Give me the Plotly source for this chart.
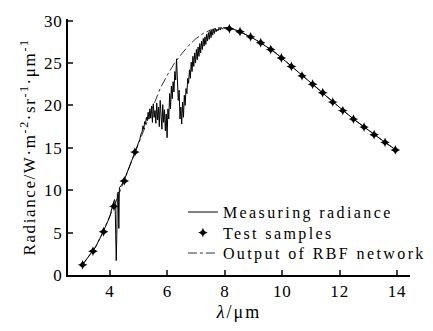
import plotly.graph_objects as go

# RBF network output (smooth curve)
rbf_x = [3.0, 3.25, 3.5, 3.75, 4.0, 4.25, 4.5, 4.75, 5.0, 5.25, 5.5, 5.75, 6.0, 6.25, 6.5,
         6.75, 7.0, 7.25, 7.5, 7.75, 8.0, 8.25, 8.5, 8.75, 9.0, 9.25, 9.5, 9.75, 10.0, 10.25,
         10.5, 10.75, 11.0, 11.25, 11.5, 11.75, 12.0, 12.25, 12.5, 12.75, 13.0, 13.25, 13.5,
         13.75, 14.0]
rbf_y = [1.0, 2.1, 3.3, 5.0, 6.9, 9.0, 11.2, 13.4, 15.6, 17.8, 20.0, 22.0, 23.6, 25.0, 26.1,
         27.1, 27.9, 28.5, 28.9, 29.15, 29.2, 29.05, 28.75, 28.35, 27.9, 27.4, 26.85, 26.25,
         25.55, 24.85, 24.1, 23.35, 22.65, 21.95, 21.2, 20.45, 19.75, 19.05, 18.35, 17.7,
         17.05, 16.45, 15.85, 15.25, 14.65]

# Measured radiance
meas_x = [3.0, 3.25, 3.5, 3.75, 4.0, 4.10, 4.16, 4.18, 4.20, 4.21, 4.22, 4.24, 4.26, 4.29,
          4.31, 4.33, 4.40, 4.5, 4.75, 5.00, 5.04, 5.08, 5.12, 5.15, 5.18, 5.21, 5.24, 5.27,
          5.30, 5.33, 5.36, 5.39, 5.42, 5.45, 5.48, 5.51, 5.54, 5.57, 5.60, 5.63, 5.66, 5.69,
          5.72, 5.75, 5.78, 5.81, 5.84, 5.87, 5.90, 5.93, 5.96, 5.99, 6.02, 6.05, 6.08, 6.11,
          6.14, 6.17, 6.20, 6.23, 6.26, 6.29, 6.32, 6.35, 6.38, 6.41, 6.44, 6.47, 6.50, 6.53,
          6.56, 6.59, 6.62, 6.65, 6.68, 6.71, 6.74, 6.77, 6.80, 6.83, 6.86, 6.89, 6.92, 6.95,
          6.98, 7.01, 7.04, 7.07, 7.10, 7.13, 7.16, 7.19, 7.22, 7.25, 7.28, 7.31, 7.34, 7.37,
          7.40, 7.43, 7.46, 7.49, 7.52, 7.55, 7.58, 7.61, 7.64, 7.67, 7.70, 7.73, 7.76, 7.80,
          7.84, 7.88, 7.92, 7.96, 8.00, 8.05, 8.25, 8.5, 8.75, 9.0, 9.25, 9.5, 9.75, 10.0,
          10.25, 10.5, 10.75, 11.0, 11.25, 11.5, 11.75, 12.0, 12.25, 12.5, 12.75, 13.0, 13.25,
          13.5, 13.75, 14.0]
meas_y = [1.0, 2.1, 3.3, 5.0, 6.9, 8.3, 8.9, 8.6, 5.0, 7.5, 1.7, 4.8, 9.6, 9.8,
          5.5, 10.3, 10.6, 11.2, 13.4, 15.6, 16.0, 16.6, 16.9, 17.6, 17.2, 18.1, 17.8, 18.6,
          18.2, 19.2, 18.4, 19.6, 18.5, 19.9, 18.0, 20.2, 18.6, 19.4, 17.9, 20.3, 18.3, 19.8,
          17.5, 20.6, 18.8, 17.2, 20.1, 18.0, 19.5, 17.0, 19.0, 16.2, 19.6, 18.4, 21.4, 19.6,
          22.3, 20.8, 22.8, 21.6, 24.0, 23.0, 25.5, 22.4, 20.6, 21.8, 18.4, 19.8, 17.8, 20.4,
          18.6, 21.2, 20.0, 22.0, 21.4, 23.2, 22.6, 24.2, 23.2, 25.1, 24.0, 25.8, 24.6, 26.2,
          25.0, 26.6, 25.4, 26.9, 25.8, 27.3, 26.2, 27.6, 26.6, 27.9, 27.0, 28.1, 27.2, 28.4,
          27.6, 28.6, 27.8, 28.8, 28.0, 28.9, 28.3, 29.0, 28.5, 29.1, 28.7, 29.0, 28.8, 29.1,
          28.9, 29.2, 29.0, 29.2, 29.1, 29.2, 29.05, 28.75, 28.35, 27.9, 27.4, 26.85, 26.25, 25.55,
          24.85, 24.1, 23.35, 22.65, 21.95, 21.2, 20.45, 19.75, 19.05, 18.35, 17.7, 17.05, 16.45,
          15.85, 15.25, 14.65]

# Test samples
test_x = [3.05, 3.41, 3.78, 4.14, 4.50, 4.87, 8.16, 8.53, 8.90, 9.25, 9.60, 9.97, 10.32,
          10.69, 11.06, 11.41, 11.76, 12.11, 12.48, 12.85, 13.20, 13.58, 13.94]
test_y = [1.2, 2.8, 5.1, 8.1, 11.1, 14.5, 29.05, 28.7, 28.1, 27.4, 26.6, 25.6, 24.6,
          23.5, 22.5, 21.5, 20.4, 19.4, 18.4, 17.45, 16.55, 15.65, 14.75]

x_ticks = [4, 6, 8, 10, 12, 14]
y_ticks = [0, 5, 10, 15, 20, 25, 30]

FONT = "Liberation Serif"

fig = go.Figure()
fig.add_trace(go.Scatter(x=rbf_x, y=rbf_y, mode="lines", name="Output of RBF network",
                         line=dict(color="#333333", width=1, dash="dashdot"), showlegend=False))
fig.add_trace(go.Scatter(x=meas_x, y=meas_y, mode="lines", name="Measuring radiance",
                         line=dict(color="black", width=1)))
fig.add_trace(go.Scatter(x=test_x, y=test_y, mode="markers", name="Test samples",
                         marker=dict(symbol="star-diamond", size=7, color="black",
                                     line=dict(width=0))))
fig.add_trace(go.Scatter(x=[None], y=[None], mode="lines", name="Output of RBF network",
                         line=dict(color="#333333", width=1, dash="dashdot")))

fig.update_layout(
    width=433, height=331,
    margin=dict(l=68, r=23, t=13, b=49),
    paper_bgcolor="white", plot_bgcolor="white",
    font=dict(family=FONT, size=16, color="black"),
    showlegend=True,
    legend=dict(x=0.336, y=0.312, xanchor="left", yanchor="top",
                bgcolor="rgba(0,0,0,0)", font=dict(family=FONT, size=16),
                tracegroupgap=0, itemwidth=30),
)
fig.update_xaxes(range=[2.54, 14.45], tickvals=x_ticks, ticks="inside", ticklen=5,
                 tickwidth=2, showline=True, linewidth=2, linecolor="black",
                 showgrid=False, zeroline=False, tickfont=dict(family=FONT, size=17),
                 title=dict(text="<i>λ</i>/μm", font=dict(family=FONT, size=18), standoff=5))
fig.update_yaxes(range=[0, 30.2], tickvals=y_ticks, ticks="inside", ticklen=5,
                 tickwidth=2, showline=True, linewidth=2, linecolor="black",
                 showgrid=False, zeroline=False, tickfont=dict(family=FONT, size=17),
                 title=dict(text="Radiance/W·m<sup>-2</sup>·sr<sup>-1</sup>·μm<sup>-1</sup>",
                            font=dict(family=FONT, size=17), standoff=6))

post = """
var gd = document.getElementsByClassName('plotly-graph-div')[0];
function spaceText(){
  gd.querySelectorAll('.legendtext').forEach(function(e){ e.style.letterSpacing='2.4px'; });
  gd.querySelectorAll('.ytitle').forEach(function(e){ e.style.letterSpacing='1.6px'; });
  gd.querySelectorAll('.xtitle').forEach(function(e){ e.style.letterSpacing='2px'; });
  gd.querySelectorAll('.xtick text, .ytick text').forEach(function(e){ e.style.letterSpacing='0.8px'; });
  gd.querySelectorAll('.legend [clip-path]').forEach(function(e){ e.removeAttribute('clip-path'); });
  gd.querySelectorAll('.legend').forEach(function(e){ e.removeAttribute('clip-path'); e.style.overflow='visible'; });
  var tr = gd.querySelectorAll('.legend .traces');
  var y0 = null;
  tr.forEach(function(t, i){
    var m = /translate\\(([-\\d.]+),\\s*([-\\d.]+)\\)/.exec(t.getAttribute('transform') || '');
    if(m){
      if(y0 === null){ y0 = parseFloat(m[2]); }
      t.setAttribute('transform', 'translate(' + m[1] + ',' + (y0 + i*20.5) + ')');
    }
  });
}
spaceText();
"""

fig.write_html("out.html", post_script=post)
